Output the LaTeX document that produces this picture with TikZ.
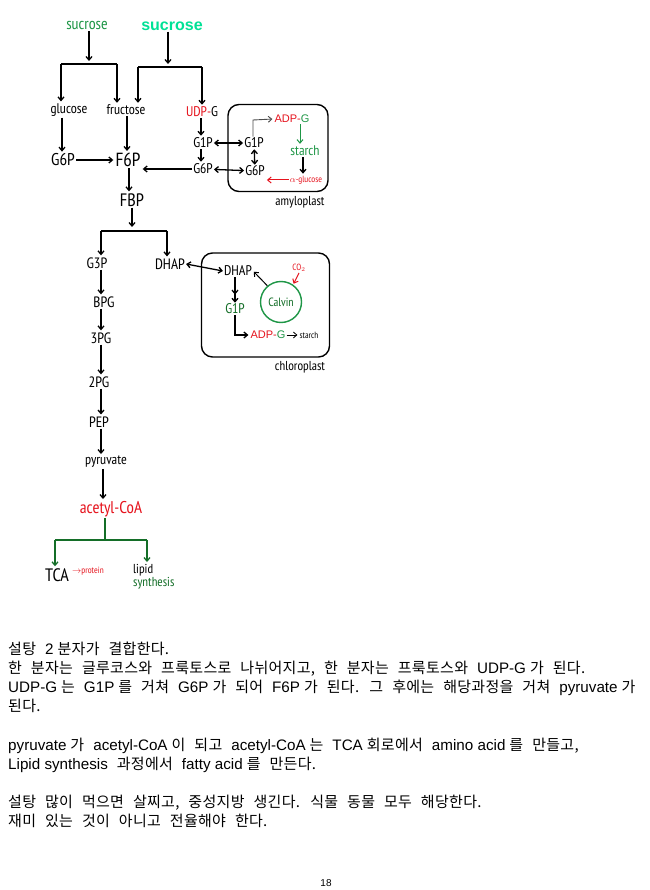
\documentclass[tikz,border=0pt]{standalone}
\usepackage{fontspec}
\setmainfont{Liberation Sans}
\newfontfamily\krf[LetterSpace=2]{Noto Sans CJK KR}
\newfontfamily\latf{Liberation Sans}
\newfontfamily\hand{PT Sans Narrow}
\newfontfamily\handb{Liberation Sans}
\newcommand\la[1]{{\latf\fontsize{15.2}{15.2}\selectfont\spaceskip 0pt\relax #1}}
\newcommand\krsetup{\krf\fontsize{15}{15}\selectfont\spaceskip 9pt\relax}
\usetikzlibrary{arrows.meta}
\definecolor{hgreen}{RGB}{30,150,70}
\definecolor{cgreen}{RGB}{0,225,150}
\definecolor{hred}{RGB}{230,20,30}
\definecolor{dgreen}{RGB}{20,110,40}
\begin{document}
\begin{tikzpicture}[x=1pt,y=-1pt,
  lbl/.style={font=\hand\fontsize{14}{14}\selectfont, inner sep=1pt},
  big/.style={font=\hand\fontsize{18}{18}\selectfont, inner sep=1pt},
  sm/.style={font=\hand\fontsize{9}{9}\selectfont, inner sep=1pt},
  arr/.style={-{Straight Barb[length=3.5pt,width=6pt]}, line width=1.3pt, shorten >=1pt},
  darr/.style={{Straight Barb[length=3.5pt,width=6pt]}-{Straight Barb[length=3.5pt,width=6pt]}, line width=1.3pt},
  ln/.style={line width=1.3pt},
  box/.style={draw, line width=1.4pt, rounded corners=11pt},
  kt/.style={font=\krsetup, anchor=base west, inner sep=0pt}]
\useasboundingbox (0,0) rectangle (649,890);
\fill[white] (0,0) rectangle (649,890);
% top
\node[text=hgreen, font=\hand\fontsize{16}{16}\selectfont, inner sep=1pt] (suc1) at (87,26) {sucrose};
\node[font=\handb\bfseries\fontsize{16}{16}\selectfont, text=cgreen, inner sep=1pt] (suc2) at (172,26) {sucrose};
\coordinate (j1) at (89,62); \coordinate (j1L) at (61,64); \coordinate (j1R) at (117,64);
\coordinate (j2) at (168,65); \coordinate (j2L) at (138,67); \coordinate (j2R) at (202,67);
\node[lbl] (glu) at (69,110) {glucose};
\node[lbl] (fru) at (126,110) {fructose};
\node[lbl] (udp) at (202,112) {\textcolor{hred}{UDP-}G};
\draw[arr] (suc1.south -| j1) -- (j1);
\draw[ln] (j1L) -- (j1R);
\draw[arr] (j1L) -- (j1L |- glu.north);
\draw[arr] (j1R) -- (j1R |- fru.north);
\draw[arr] (suc2.south -| j2) -- (j2);
\draw[ln] (j2L) -- (j2R);
\draw[arr] (j2L) -- (j2L |- fru.north);
\draw[arr] (j2R) -- (j2R |- udp.north);
\node[font=\hand\fontsize{17}{17}\selectfont, inner sep=1pt] (g6p) at (63,160) {G6P};
\node[font=\hand\fontsize{19}{19}\selectfont, inner sep=1pt] (f6p) at (128,160) {F6P};
\draw[arr] (glu.south -| 62,0) -- (62,0 |- g6p.north);
\draw[arr] (fru.south -| 127,0) -- (127,0 |- f6p.north);
\draw[arr] (g6p) -- (f6p);
\node[lbl] (g1pa) at (203,143) {G1P};
\node[lbl] (g6pa) at (203,169) {G6P};
\draw[arr] (udp.south -| 201,0) -- (201,0 |- g1pa.north);
\draw[arr] (g1pa.south -| 201,0) -- (201,0 |- g6pa.north);
\draw[arr] (g6pa.west) -- (f6p.east |- g6pa.west);
% amyloplast
\node[box, minimum width=100pt, minimum height=87pt] (amy) at (278,148) {};
\node[font=\hand\fontsize{13}{13}\selectfont, inner sep=1pt] (amyl) at (300,202) {amyloplast};
\node[lbl] (g1pb) at (254,143) {G1P};
\node[lbl] (g6pb) at (255,171) {G6P};
\node[font=\handb\fontsize{11}{11}\selectfont, inner sep=1pt] (adpg) at (292,119) {\textcolor{hred}{ADP-}\textcolor{hgreen}{G}};
\node[lbl, text=hgreen] (starch) at (305,151) {starch};
\node[sm, text=hred] (agl) at (306,180) {$\alpha$-glucose};
\draw[darr] (g1pa) -- (g1pb);
\draw[darr] (g6pa) -- (g6pb);
\draw[darr] (g1pb) -- (g6pb);
\draw[arr, line width=0.9pt, black!70] (g1pb.north -| 253,0) -- (253,120) -- (adpg.west);
\draw[arr, hgreen, line width=1pt] (adpg.south -| 300,0) -- (300,0 |- starch.north);
\draw[arr] (starch.south -| 303,0) -- (303,0 |- agl.north);
\draw[arr, hred, line width=1pt] (agl.west) -- (g6pb.east |- agl.west);
% FBP
\node[big] (fbp) at (132,200) {FBP};
\draw[arr] (f6p.south -| 129,0) -- (129,0 |- fbp.north);
\coordinate (j3) at (132,228); \coordinate (j3L) at (101,231); \coordinate (j3R) at (167,231);
\node[lbl, font=\hand\fontsize{15}{15}\selectfont] (g3p) at (97,263) {G3P};
\node[lbl, font=\hand\fontsize{15}{15}\selectfont] (dhap) at (170,264) {DHAP};
\draw[arr] (fbp.south -| j3) -- (j3);
\draw[ln] (j3L) -- (j3R);
\draw[arr] (j3L) -- (j3L |- g3p.north);
\draw[arr] (j3R) -- (j3R |- dhap.north);
% chloroplast
\node[box, minimum width=128pt, minimum height=104pt] (chl) at (265.5,305) {};
\node[font=\hand\fontsize{13}{13}\selectfont, inner sep=1pt] (chll) at (300,367) {chloroplast};
\node[lbl] (dhapb) at (238,271) {DHAP};
\draw[darr] (dhap.east) -- (dhapb.west);
\node[lbl, text=dgreen] (g1pc) at (235,309) {G1P};
\draw[-{Straight Barb[length=3.5pt,width=6pt,sep=3pt]Straight Barb[length=3.5pt,width=6pt]}, line width=1.3pt] (dhapb.south -| 235,0) -- (235,0 |- g1pc.north);
\node[circle, draw=hgreen, line width=1.4pt, minimum size=41pt, inner sep=0pt, text=dgreen, font=\hand\fontsize{12}{12}\selectfont] (calvin) at (281,302) {Calvin};
\node[sm, text=hred] (co2) at (299,268) {CO$_2$};
\draw[arr, line width=1pt] (calvin.130) -- (dhapb.east);
\draw[arr, hred, line width=1pt] (co2.south) -- (calvin.55);
\node[font=\handb\fontsize{11}{11}\selectfont, inner sep=1pt] (adpg2) at (268,335) {\textcolor{hred}{ADP-}\textcolor{hgreen}{G}};
\node[sm] (starch2) at (309,335) {starch};
\draw[arr] (g1pc.south -| 235,0) |- (adpg2.west);
\draw[arr, line width=0.8pt] (adpg2) -- (starch2);
% glycolysis chain
\node[lbl, font=\hand\fontsize{15}{15}\selectfont] (bpg) at (104,302) {BPG};
\node[lbl, font=\hand\fontsize{15}{15}\selectfont] (pg3) at (101,338) {3PG};
\node[lbl, font=\hand\fontsize{15}{15}\selectfont] (pg2) at (99,382) {2PG};
\node[lbl, font=\hand\fontsize{15}{15}\selectfont] (pep) at (99,422) {PEP};
\node[lbl] (pyr) at (106,462) {pyruvate};
\node[text=hred, font=\hand\fontsize{17}{17}\selectfont, inner sep=1pt] (acoa) at (111,509) {acetyl-CoA};
\draw[arr] (g3p.south -| 101,0) -- (101,0 |- bpg.north);
\draw[arr] (bpg.south -| 101,0) -- (101,0 |- pg3.north);
\draw[arr] (pg3.south -| 101,0) -- (101,0 |- pg2.north);
\draw[arr] (pg2.south -| 101,0) -- (101,0 |- pep.north);
\draw[arr] (pep.south -| 101,0) -- (101,0 |- pyr.north);
\draw[arr] (pyr.south -| 103,0) -- (103,0 |- acoa.north);
\coordinate (j4) at (105,540); \coordinate (j4L) at (55,540); \coordinate (j4R) at (147,540);
\node[font=\hand\fontsize{18}{18}\selectfont, inner sep=1pt] (tca) at (57,575) {TCA};
\node[sm, text=hred, anchor=west] (prot) at (71,571) {$\rightarrow$protein};
\node[font=\hand\fontsize{13}{11}\selectfont, inner sep=1pt, align=left, anchor=north west] (lip) at (132,563) {lipid\\\textcolor{dgreen}{synthesis}};
\draw[ln, dgreen] (acoa.south -| j4) -- (j4);
\draw[ln, dgreen] (j4L) -- (j4R);
\draw[arr, dgreen] (j4L) -- (j4L |- tca.north);
\draw[arr, dgreen] (j4R) -- (j4R |- lip.north);
% text
\node[kt] (t1) at (8,654) {설탕 \la{2}\kern4pt 분자가 결합한다.};
\node[kt] (t2) at (8,673) {한 분자는 글루코스와 프룩토스로 나뉘어지고, 한 분자는 프룩토스와 \la{UDP-G}\kern4pt 가 된다.};
\node[kt] (t3) at (8,692) {\la{UDP-G}\kern4pt 는 \la{G1P}\kern4pt 를 거쳐 \la{G6P}\kern4pt 가 되어 \la{F6P}\kern4pt 가 된다. 그 후에는 해당과정을 거쳐 \la{pyruvate}\kern4pt 가};
\node[kt] (t4) at (8,711) {된다.};
\node[kt] (t5) at (8,750) {\la{pyruvate}\kern4pt 가 \la{acetyl-CoA}\kern4pt 이 되고 \la{acetyl-CoA}\kern4pt 는 \la{TCA}\kern4pt 회로에서 \la{amino acid}\kern4pt 를 만들고,};
\node[kt] (t6) at (8,769) {\la{Lipid synthesis} 과정에서 \la{fatty acid}\kern4pt 를 만든다.};
\node[kt] (t7) at (8,807) {설탕 많이 먹으면 살찌고, 중성지방 생긴다. 식물 동물 모두 해당한다.};
\node[kt] (t8) at (8,826) {재미 있는 것이 아니고 전율해야 한다.};
\node[font=\fontsize{10}{10}\selectfont] (pg) at (326,883) {18};
\end{tikzpicture}
\end{document}
